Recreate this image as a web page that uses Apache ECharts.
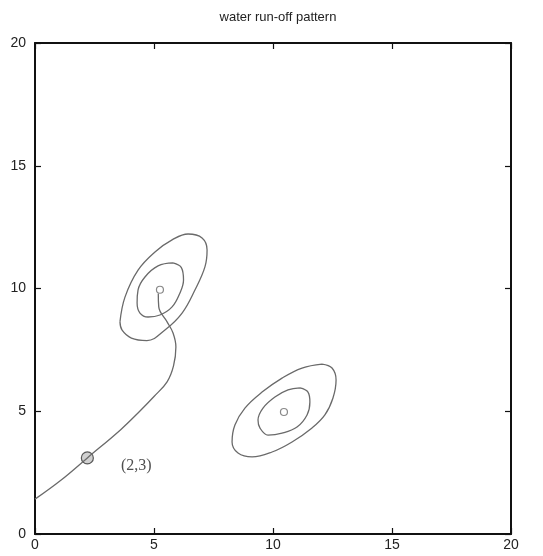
<!DOCTYPE html>
<html>
<head>
<meta charset="utf-8">
<title>water run-off pattern</title>
<script src="https://cdn.jsdelivr.net/npm/echarts@6/dist/echarts.min.js"></script>
<style>
  html, body { margin: 0; padding: 0; background: #fff; }
  #myChart { width: 543px; height: 556px; }
</style>
</head>
<body>
<div id="myChart"></div>
<script>
// tick labels on both axes
var tickValues = [0, 5, 10, 15, 20];

// contours around the first source (near 5,10)
var outerA = [[3.57, 8.64], [3.78, 9.65], [4.33, 10.75], [5.04, 11.49], [5.76, 11.98], [6.43, 12.22],
  [7.02, 12.06], [7.23, 11.57], [7.14, 10.88], [6.72, 9.94], [6.18, 9.00], [5.46, 8.31],
  [4.70, 7.88], [4.05, 7.98], [3.66, 8.30], [3.57, 8.64]];
var innerA = [[5.80, 11.04], [6.15, 10.85], [6.24, 10.35], [6.09, 9.82], [5.76, 9.25], [5.25, 8.92],
  [4.75, 8.84], [4.41, 9.00], [4.29, 9.41], [4.33, 9.94], [4.62, 10.47], [5.17, 10.92], [5.80, 11.04]];

// contours around the second source (near 10,5)
var outerB = [[12.06, 6.92], [12.48, 6.76], [12.65, 6.27], [12.52, 5.54], [12.18, 4.85], [11.64, 4.32],
  [10.80, 3.75], [9.96, 3.34], [9.12, 3.14], [8.53, 3.30], [8.28, 3.75], [8.40, 4.44],
  [8.82, 5.13], [9.54, 5.78], [10.38, 6.35], [11.22, 6.76], [12.06, 6.92]];
var innerB = [[11.13, 5.95], [11.47, 5.78], [11.55, 5.38], [11.43, 4.85], [11.01, 4.36], [10.38, 4.11],
  [9.79, 4.03], [9.45, 4.32], [9.37, 4.64], [9.58, 5.13], [10.08, 5.58], [10.63, 5.87], [11.13, 5.95]];

// centres of the two sources
var centres = [[5.25, 9.95], [10.46, 4.97]];

// the run-off path from the edge up into the first source
var runoff = [[0, 1.42], [1.1, 2.2], [2.2, 3.1], [3.6, 4.25], [4.4, 5.0], [5.0, 5.6],
  [5.55, 6.2], [5.82, 6.85], [5.92, 7.62], [5.80, 8.19], [5.55, 8.64], [5.20, 9.25], [5.18, 9.8]];

// the marked starting point
var startPoint = [2.2, 3.1];
var startLabel = '(2,3)';

var lineColor = '#6a6a6a';

function contour(name, data) {
  return {
    name: name,
    type: 'line',
    data: data,
    smooth: 0.4,
    showSymbol: false,
    silent: true,
    lineStyle: { color: lineColor, width: 1.3 }
  };
}

var axisLabelStyle = { color: '#222', fontSize: 14, fontFamily: 'Liberation Sans' };
var axisLineStyle = { show: true, onZero: false, lineStyle: { color: '#111', width: 2 } };
var tickStyle = { show: true, inside: true, length: 6, lineStyle: { color: '#111', width: 1.2 } };

var option = {
  animation: false,
  title: {
    text: 'water run-off pattern',
    left: 273,
    textAlign: 'center',
    top: 6,
    textStyle: { fontSize: 13, fontWeight: 'normal', color: '#222', fontFamily: 'Liberation Sans' }
  },
  grid: { left: 35, right: 32, top: 43, bottom: 22 },
  xAxis: [
    {
      type: 'value', min: 0, max: 20, interval: 5, position: 'bottom',
      axisLine: axisLineStyle, axisTick: tickStyle, splitLine: { show: false },
      axisLabel: Object.assign({ margin: 4 }, axisLabelStyle)
    },
    {
      type: 'value', min: 0, max: 20, interval: 5, position: 'top',
      axisLine: axisLineStyle, axisTick: tickStyle, splitLine: { show: false },
      axisLabel: { show: false }
    }
  ],
  yAxis: [
    {
      type: 'value', min: 0, max: 20, interval: 5, position: 'left',
      axisLine: axisLineStyle, axisTick: tickStyle, splitLine: { show: false },
      axisLabel: Object.assign({ margin: 9 }, axisLabelStyle)
    },
    {
      type: 'value', min: 0, max: 20, interval: 5, position: 'right',
      axisLine: axisLineStyle, axisTick: tickStyle, splitLine: { show: false },
      axisLabel: { show: false }
    }
  ],
  series: [
    contour('outerA', outerA),
    contour('innerA', innerA),
    contour('outerB', outerB),
    contour('innerB', innerB),
    contour('runoff', runoff),
    {
      name: 'centres',
      type: 'scatter',
      data: centres,
      symbolSize: 7,
      silent: true,
      itemStyle: { color: '#fff', borderColor: lineColor, borderWidth: 1.2 }
    },
    {
      name: 'start',
      type: 'scatter',
      data: [startPoint],
      symbolSize: 12,
      silent: true,
      itemStyle: { color: '#c4c4c4', borderColor: '#333', borderWidth: 1.2 },
      label: {
        show: true,
        position: 'right',
        distance: 27,
        offset: [0, 8],
        formatter: startLabel,
        color: '#222',
        fontSize: 16,
        fontFamily: 'Liberation Serif'
      }
    }
  ]
};

var myChart = echarts.init(document.getElementById('myChart'));
myChart.setOption(option);
</script>
</body>
</html>
